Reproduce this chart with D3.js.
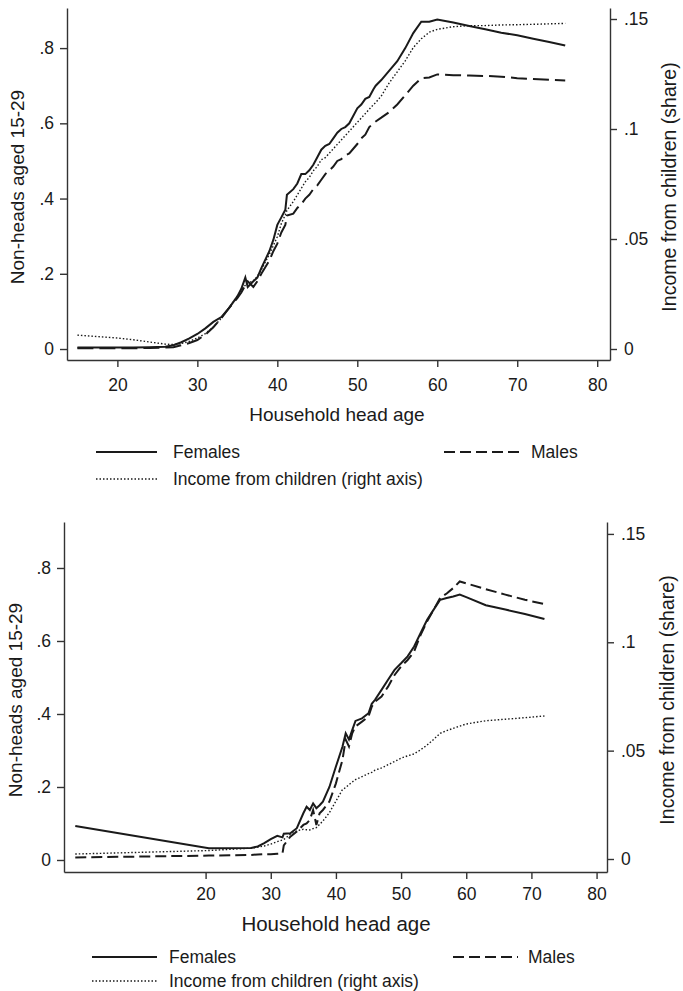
<!DOCTYPE html>
<html>
<head>
<meta charset="utf-8">
<script src="https://cdn.jsdelivr.net/npm/d3@7"></script>
<style>
  body { margin: 0; background: #fff; }
  svg { display: block; font-family: "Liberation Sans", Arial, sans-serif; }
</style>
</head>
<body>
<svg id="chart" width="683" height="991"></svg>
<script>
// ---- data ----
// top panel
const ageTop = [15, 20, 22, 24, 26, 27, 28, 29, 30, 31, 32, 33, 34, 35, 35.5, 36, 36.3, 37, 37.5, 38,
  39, 39.5, 40, 40.5, 41, 41.2, 42, 42.5, 43, 43.5, 44, 44.5, 45, 45.5, 46, 46.5, 47, 47.5, 48, 48.5,
  49, 50, 50.5, 51, 51.5, 52, 52.3, 53, 54, 55, 56, 57, 58, 59, 60, 62, 64, 66, 68, 70, 72, 74, 76];
const femalesTop = [0.004, 0.004, 0.004, 0.005, 0.006, 0.010, 0.018, 0.028, 0.040, 0.055, 0.072, 0.085, 0.11, 0.14, 0.16, 0.19, 0.165, 0.18, 0.19, 0.215,
  0.26, 0.29, 0.33, 0.35, 0.37, 0.41, 0.425, 0.44, 0.465, 0.465, 0.475, 0.49, 0.51, 0.53, 0.54, 0.545, 0.56, 0.575, 0.585, 0.59,
  0.60, 0.64, 0.65, 0.665, 0.67, 0.69, 0.70, 0.715, 0.74, 0.765, 0.80, 0.84, 0.870, 0.870, 0.876, 0.868, 0.859, 0.850, 0.841, 0.834, 0.825, 0.816, 0.807];
const malesTop = [0.002, 0.002, 0.002, 0.003, 0.004, 0.005, 0.010, 0.016, 0.024, 0.038, 0.058, 0.082, 0.11, 0.135, 0.15, 0.17, 0.18, 0.165, 0.18, 0.20,
  0.235, 0.26, 0.28, 0.31, 0.33, 0.355, 0.36, 0.375, 0.385, 0.40, 0.41, 0.425, 0.435, 0.45, 0.465, 0.475, 0.485, 0.50, 0.505, 0.515,
  0.52, 0.545, 0.56, 0.57, 0.59, 0.60, 0.605, 0.615, 0.63, 0.65, 0.675, 0.70, 0.72, 0.722, 0.73, 0.728, 0.727, 0.726, 0.724, 0.72, 0.718, 0.716, 0.714];
const incomeTop = [0.0063, 0.005, 0.0042, 0.0032, 0.0022, 0.002, 0.0025, 0.0035, 0.005, 0.007, 0.010, 0.014, 0.019, 0.024, 0.027, 0.029, 0.030, 0.031, 0.033, 0.036,
  0.043, 0.047, 0.051, 0.057, 0.061, 0.063, 0.067, 0.070, 0.073, 0.076, 0.078, 0.081, 0.083, 0.086, 0.087, 0.089, 0.091, 0.093, 0.095, 0.097,
  0.099, 0.103, 0.105, 0.107, 0.109, 0.111, 0.112, 0.115, 0.121, 0.126, 0.131, 0.137, 0.141, 0.144, 0.1453, 0.1465, 0.147, 0.147, 0.1473, 0.1474, 0.1476, 0.1478, 0.148];

// bottom panel
const ageBot = [0, 20.5, 27, 28, 29, 30, 31, 31.8, 32, 33, 34, 35, 35.5, 36, 36.5, 37, 37.5, 38, 39, 40,
  41, 41.5, 42, 42.5, 43, 44, 45, 45.5, 46, 47, 48, 49, 50, 51, 52, 53, 54, 55, 56, 57,
  58, 59, 60, 63, 66, 69, 72];
const femalesBot = [0.093, 0.032, 0.033, 0.037, 0.046, 0.057, 0.066, 0.062, 0.072, 0.073, 0.087, 0.128, 0.146, 0.137, 0.155, 0.142, 0.15, 0.16, 0.20, 0.256,
  0.31, 0.347, 0.33, 0.356, 0.381, 0.388, 0.402, 0.428, 0.439, 0.466, 0.494, 0.521, 0.539, 0.558, 0.585, 0.622, 0.658, 0.686, 0.713, 0.718,
  0.722, 0.727, 0.72, 0.698, 0.686, 0.674, 0.66];
const malesBot = [0.007, 0.012, 0.014, 0.015, 0.016, 0.016, 0.017, 0.018, 0.04, 0.064, 0.078, 0.096, 0.10, 0.11, 0.137, 0.096, 0.128, 0.137, 0.16, 0.21,
  0.274, 0.33, 0.311, 0.347, 0.366, 0.379, 0.393, 0.42, 0.434, 0.448, 0.475, 0.507, 0.53, 0.548, 0.571, 0.617, 0.654, 0.686, 0.718, 0.73,
  0.745, 0.763, 0.758, 0.742, 0.727, 0.713, 0.701];
const incomeBot = [0.0023, 0.0039, 0.005, 0.0055, 0.006, 0.0069, 0.008, 0.0088, 0.009, 0.0114, 0.013, 0.0137, 0.0135, 0.0134, 0.014, 0.0145, 0.016, 0.0175, 0.0214, 0.0267,
  0.032, 0.033, 0.0343, 0.0355, 0.0366, 0.038, 0.0394, 0.040, 0.041, 0.042, 0.0435, 0.045, 0.0465, 0.0476, 0.0485, 0.0504, 0.0526, 0.0552, 0.058, 0.0592,
  0.0603, 0.0613, 0.0623, 0.0638, 0.0645, 0.0652, 0.066];

// ticks and labels
const xTicks = [20, 30, 40, 50, 60, 70, 80];
const leftTicks = [0, 0.2, 0.4, 0.6, 0.8];
const rightTicks = [0, 0.05, 0.1, 0.15];
const xTitle = "Household head age";
const leftTitle = "Non-heads aged 15-29";
const rightTitle = "Income from children (share)";
const legendLabels = ["Females", "Males", "Income from children (right axis)"];

const ink = "#1a1a1a";
const fmt = v => v === 0 ? "0" : String(v).replace(/^0/, "");

const svg = d3.select("#chart");

function drawPanel(p) {
  const x = d3.scaleLinear().domain(p.xDom).range([p.left, p.right]);
  const yL = d3.scaleLinear().domain(p.yLDom).range([p.bottom, p.top]);
  const yR = d3.scaleLinear().domain(p.yRDom).range([p.bottom, p.top]);
  const g = svg.append("g");

  // axes
  const styleAxis = a => {
    a.selectAll("path, line").attr("stroke", "#333").attr("stroke-width", 1.4);
    a.selectAll("text").attr("fill", ink).attr("font-size", 17.5)
      .attr("font-family", "'Liberation Sans', Arial, sans-serif");
  };
  g.append("g").attr("transform", `translate(0,${p.bottom})`)
    .call(d3.axisBottom(x).tickValues(xTicks).tickFormat(d3.format("d"))
      .tickSize(7).tickSizeOuter(0).tickPadding(p.xPad))
    .call(styleAxis);
  g.append("g").attr("transform", `translate(${p.left},0)`)
    .call(d3.axisLeft(yL).tickValues(leftTicks).tickFormat(fmt)
      .tickSize(7).tickSizeOuter(0).tickPadding(6))
    .call(styleAxis);
  g.append("g").attr("transform", `translate(${p.right},0)`)
    .call(d3.axisRight(yR).tickValues(rightTicks).tickFormat(fmt)
      .tickSize(7).tickSizeOuter(0).tickPadding(7))
    .call(styleAxis);

  // series
  const lineL = d3.line().x(d => x(d[0])).y(d => yL(d[1]));
  const lineR = d3.line().x(d => x(d[0])).y(d => yR(d[1]));
  g.append("path").datum(d3.zip(p.age, p.income)).attr("d", lineR)
    .attr("fill", "none").attr("stroke", ink).attr("stroke-width", 1.4)
    .attr("stroke-dasharray", "1.5,2");
  g.append("path").datum(d3.zip(p.age, p.males)).attr("d", lineL)
    .attr("fill", "none").attr("stroke", ink).attr("stroke-width", 2)
    .attr("stroke-dasharray", p.dash);
  g.append("path").datum(d3.zip(p.age, p.females)).attr("d", lineL)
    .attr("fill", "none").attr("stroke", ink).attr("stroke-width", 2);

  // titles
  g.append("text").attr("x", p.xTitleX).attr("y", p.xTitleY)
    .attr("text-anchor", "middle").attr("font-size", p.xTitleSize).attr("fill", ink)
    .text(xTitle);
  const midY = (p.top + p.bottom) / 2 + 3;
  g.append("text").attr("transform", `translate(${p.lTitleX},${midY}) rotate(-90)`)
    .attr("text-anchor", "middle").attr("dy", "0.35em").attr("font-size", 19).attr("fill", ink)
    .text(leftTitle);
  g.append("text").attr("transform", `translate(${p.rTitleX},${midY}) rotate(-90)`)
    .attr("text-anchor", "middle").attr("dy", "0.35em").attr("font-size", 19.5).attr("fill", ink)
    .text(rightTitle);

  // legend
  const lg = g.append("g").attr("font-size", 17.5).attr("fill", ink);
  const keys = [
    {x0: p.legX0, x1: p.legX1, y: p.legY1, dash: null, w: 2, tx: p.legTx, label: legendLabels[0]},
    {x0: p.legX2, x1: p.legX3, y: p.legY1, dash: "11,5", w: 2, tx: p.legTx2, label: legendLabels[1]},
    {x0: p.legX0, x1: p.legX1, y: p.legY2, dash: "1.5,2", w: 1.3, tx: p.legTx, label: legendLabels[2]}
  ];
  keys.forEach(k => {
    lg.append("line").attr("x1", k.x0).attr("x2", k.x1).attr("y1", k.y).attr("y2", k.y)
      .attr("stroke", ink).attr("stroke-width", k.w)
      .attr("stroke-dasharray", k.dash);
    lg.append("text").attr("x", k.tx).attr("y", k.y).attr("dy", "0.36em").text(k.label);
  });
}

drawPanel({
  age: ageTop, females: femalesTop, males: malesTop, income: incomeTop,
  left: 67, right: 610, top: 8, bottom: 360,
  xDom: [13.7, 81.6], yLDom: [-0.0292, 0.9066], yRDom: [-0.005, 0.155],
  xPad: 12, dash: "16,6",
  xTitleX: 337, xTitleY: 421, xTitleSize: 19,
  lTitleX: 17, rTitleX: 669,
  legX0: 96, legX1: 157, legX2: 444, legX3: 522, legTx: 173, legTx2: 531,
  legY1: 452, legY2: 479
});

drawPanel({
  age: ageBot, females: femalesBot, males: malesBot, income: incomeBot,
  left: 64, right: 607, top: 522, bottom: 872,
  xDom: [-1.73, 81.6], yLDom: [-0.0329, 0.926], yRDom: [-0.006, 0.1555],
  xPad: 9, dash: "11,5",
  xTitleX: 336, xTitleY: 931, xTitleSize: 20.5,
  lTitleX: 15, rTitleX: 667,
  legX0: 92, legX1: 157, legX2: 453, legX3: 518, legTx: 169, legTx2: 528,
  legY1: 957, legY2: 981
});
</script>
</body>
</html>
